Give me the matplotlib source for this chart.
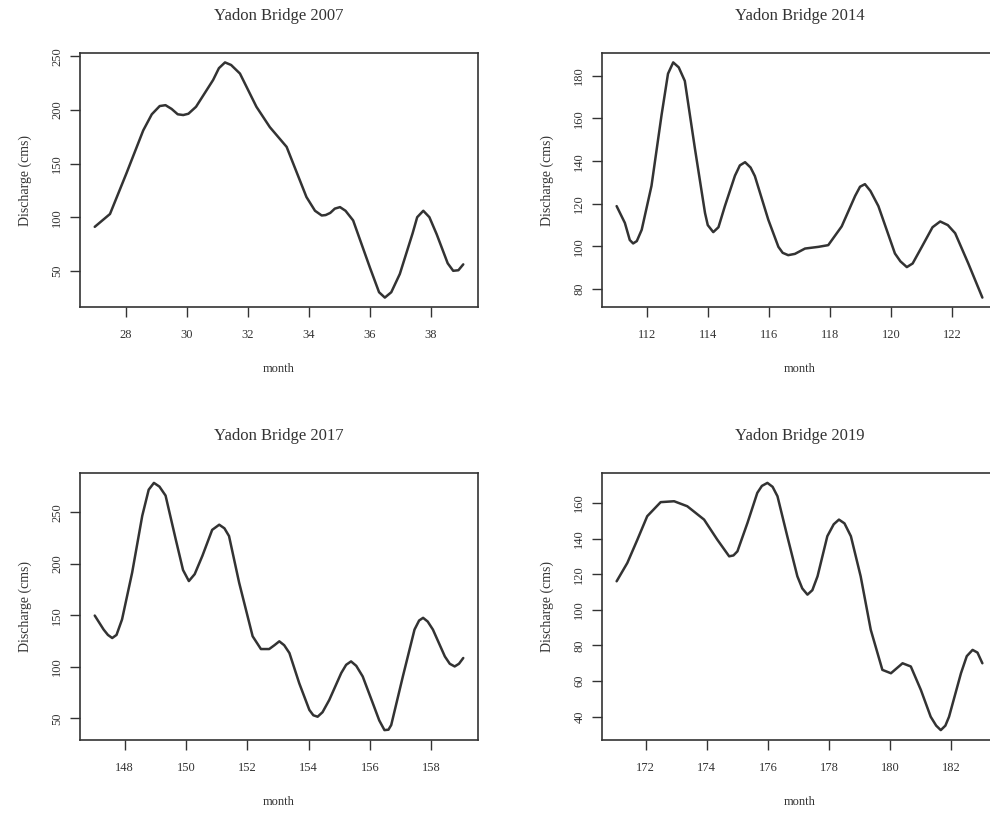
import matplotlib
matplotlib.use("Agg")
import matplotlib.pyplot as plt

# discharge (month index, cms)
month_2007 = [26.98, 27.48, 28.02, 28.57, 28.85, 29.11, 29.3, 29.5, 29.7, 29.88, 30.05,
              30.3, 30.86, 31.05, 31.25, 31.45, 31.74, 32.28, 32.72, 33.27, 33.92, 34.2,
              34.42, 34.55, 34.7, 34.85, 35.02, 35.2, 35.45, 36.0, 36.3, 36.49, 36.7,
              36.98, 37.4, 37.55, 37.75, 37.95, 38.19, 38.55, 38.73, 38.9, 39.06]
discharge_2007 = [91, 103, 141, 181, 196, 203.7, 204.5, 201, 196, 195.3, 196.5,
                  203, 228, 239, 244.4, 242, 234, 203, 184, 165.6, 118.8, 106,
                  101.6, 102, 104, 108, 109.4, 106, 97, 53, 30, 25, 30,
                  47, 85, 100, 106, 100, 84, 57, 50, 50.5, 56]

month_2014 = [111.02, 111.29, 111.45, 111.56, 111.68, 111.84, 112.16, 112.49, 112.7,
              112.87, 113.05, 113.25, 113.58, 113.91, 114.0, 114.18, 114.35, 114.56,
              114.89, 115.05, 115.22, 115.4, 115.54, 115.98, 116.31, 116.45, 116.63,
              116.85, 117.18, 117.62, 117.94, 118.38, 118.82, 118.98, 119.14, 119.32,
              119.58, 120.12, 120.3, 120.51, 120.7, 121.0, 121.35, 121.6, 121.85,
              122.09, 122.52, 122.98]
discharge_2014 = [118.9, 111, 103, 101.4, 102.5, 107.8, 128.4, 161.7, 181,
                  186.3, 184, 177.6, 145.9, 115.7, 110, 106.7, 109, 118.9,
                  133.2, 138, 139.5, 137, 133, 112.5, 99.8, 97, 95.9,
                  96.5, 99, 99.8, 100.6, 109.4, 123.7, 128, 129.2, 126,
                  118.9, 96.7, 93, 90.3, 92, 99.8, 109, 111.7, 110,
                  106.2, 92, 76]

month_2017 = [147.02, 147.31, 147.45, 147.59, 147.73, 147.91, 148.24, 148.57, 148.78,
              148.95, 149.13, 149.33, 149.66, 149.9, 150.09, 150.28, 150.53, 150.85,
              151.08, 151.25, 151.4, 151.73, 152.17, 152.44, 152.71, 152.88, 153.04,
              153.2, 153.37, 153.69, 154.02, 154.15, 154.29, 154.45, 154.67, 155.06,
              155.22, 155.38, 155.55, 155.76, 156.09, 156.3, 156.47, 156.6, 156.69,
              157.07, 157.45, 157.6, 157.73, 157.88, 158.05, 158.44, 158.6, 158.76,
              158.9, 159.04]
discharge_2017 = [149.8, 136.2, 131, 128, 131, 146, 191.5, 246.7, 272,
                  278.6, 275, 266.3, 224, 194, 183.3, 190, 207.7, 233,
                  238, 234.5, 227, 181.7, 129.7, 117.3, 117.3, 121, 124.8,
                  121, 113.4, 84.1, 58.2, 53, 51.6, 56, 67.9, 94,
                  102, 105.3, 101, 90.7, 64.7, 48, 38.6, 39, 43.5,
                  90.7, 136.2, 145, 147.6, 144, 136.2, 110.1, 103, 100.4,
                  103, 108.6]

month_2019 = [171.05, 171.4, 171.73, 172.05, 172.49, 172.93, 173.36, 173.91, 174.34,
              174.73, 174.87, 175.0, 175.33, 175.65, 175.8, 175.98, 176.15, 176.31,
              176.63, 176.96, 177.12, 177.29, 177.45, 177.62, 177.94, 178.15, 178.32,
              178.5, 178.71, 179.03, 179.36, 179.74, 180.02, 180.4, 180.67, 181.0,
              181.32, 181.5, 181.65, 181.8, 181.92, 182.31, 182.5, 182.69, 182.85,
              183.01]
discharge_2019 = [116, 126.3, 139.4, 152.5, 160.4, 160.9, 158.1, 150.6, 139.4,
                  130, 130.5, 132.8, 148.8, 165.6, 169.5, 171.2, 169, 163.7,
                  141.3, 118.8, 112, 108.5, 111, 118.8, 141.3, 148, 150.6,
                  148.5, 141.3, 118.8, 88.8, 66.3, 64.4, 70, 68.2, 55,
                  40, 35, 32.5, 35, 40, 64.4, 74, 77.5, 76,
                  70]

years = ["2007", "2014", "2017", "2019"]
series = [(month_2007, discharge_2007), (month_2014, discharge_2014),
          (month_2017, discharge_2017), (month_2019, discharge_2019)]
xticks = [[28, 30, 32, 34, 36, 38], [112, 114, 116, 118, 120, 122],
          [148, 150, 152, 154, 156, 158], [172, 174, 176, 178, 180, 182]]
yticks = [[50, 100, 150, 200, 250], [80, 100, 120, 140, 160, 180],
          [50, 100, 150, 200, 250], [40, 60, 80, 100, 120, 140, 160]]

plt.rcParams["font.family"] = ["Liberation Serif", "DejaVu Serif"]
ink = "#333333"

W, H = 990, 819
fig = plt.figure(figsize=(W / 100, H / 100), dpi=100)
fig.patch.set_facecolor("white")

# axes boxes in pixels: left, right, top, bottom
boxes = [(80, 478, 53, 307), (602, 997, 53, 307),
         (80, 478, 473, 740), (602, 997, 473, 740)]

for i, (x, y) in enumerate(series):
    l, r, t, b = boxes[i]
    ax = fig.add_axes([l / W, (H - b) / H, (r - l) / W, (b - t) / H])
    ax.plot(x, y, color=ink, lw=1.8, solid_joinstyle="round", solid_capstyle="round")

    # R style 4% padding
    xr = max(x) - min(x)
    yr = max(y) - min(y)
    ax.set_xlim(min(x) - 0.04 * xr, max(x) + 0.04 * xr)
    ax.set_ylim(min(y) - 0.04 * yr, max(y) + 0.04 * yr)

    ax.set_xticks(xticks[i])
    ax.set_yticks(yticks[i])
    ax.tick_params(direction="out", length=7, width=1.0, color=ink,
                   labelsize=9, labelcolor=ink)
    ax.tick_params(axis="x", pad=9)
    ax.tick_params(axis="y", pad=5)
    for lbl in ax.get_yticklabels():
        lbl.set_rotation(90)
        lbl.set_va("center")
    for s in ax.spines.values():
        s.set_color(ink)
        s.set_linewidth(1.2)

    ax.set_title("Yadon Bridge " + years[i], fontsize=12, color=ink, pad=24)
    ax.set_xlabel("month", fontsize=9, color=ink, labelpad=16)
    ax.set_ylabel("Discharge (cms)", fontsize=10, color=ink, labelpad=14)

plt.savefig("out.png", dpi=100, facecolor="white")
